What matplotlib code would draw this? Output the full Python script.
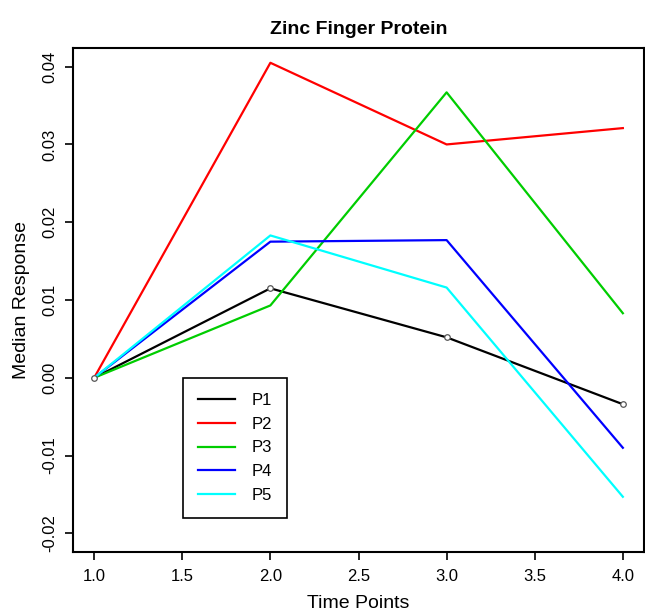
import matplotlib
matplotlib.use("Agg")
import matplotlib.pyplot as plt

plt.rcParams["font.family"] = ["Liberation Sans", "DejaVu Sans"]

time_points = [1, 2, 3, 4]
p1 = [0.0, 0.0115, 0.0052, -0.0034]
p2 = [0.0, 0.0405, 0.0300, 0.0321]
p3 = [0.0, 0.0093, 0.0367, 0.0083]
p4 = [0.0, 0.0175, 0.0177, -0.0090]
p5 = [0.0, 0.0183, 0.0116, -0.0153]

series = [("P1", p1, "black"), ("P2", p2, "#FF0000"), ("P3", p3, "#00CD00"),
          ("P4", p4, "#0000FF"), ("P5", p5, "#00FFFF")]

x_ticks = [1.0, 1.5, 2.0, 2.5, 3.0, 3.5, 4.0]
y_ticks = [-0.02, -0.01, 0.00, 0.01, 0.02, 0.03, 0.04]

fig = plt.figure(figsize=(6.45, 6.14), dpi=100)
ax = fig.add_axes([73 / 645, 62 / 614, 571 / 645, 504 / 614])

for name, vals, col in series:
    ax.plot(time_points, vals, color=col, lw=1.6, label=name)
# P1 was drawn with small open point markers
ax.plot(time_points, p1, linestyle="none", marker="o", ms=4, mfc="white",
        mec="#555555", mew=0.9)

ax.set_xlim(0.88, 4.12)
ax.set_ylim(-0.0224, 0.0424)
ax.set_xticks(x_ticks)
ax.set_xticklabels([f"{t:.1f}" for t in x_ticks], fontsize=12)
ax.set_yticks(y_ticks)
ax.set_yticklabels([f"{t:.2f}" for t in y_ticks], fontsize=12,
                   rotation=90, va="center")
ax.tick_params(direction="out", length=6, width=1.2, color="black")
ax.tick_params(axis="x", pad=6)
ax.tick_params(axis="y", pad=5)
for sp in ax.spines.values():
    sp.set_linewidth(1.5)

ax.set_title("Zinc Finger Protein", fontsize=14, fontweight="bold", pad=10)
ax.set_xlabel("Time Points", fontsize=14, labelpad=8)
ax.set_ylabel("Median Response", fontsize=14, labelpad=9)

leg = ax.legend(loc="upper left", bbox_to_anchor=(0.193, 0.345), borderaxespad=0,
                fontsize=12, fancybox=False, edgecolor="black", framealpha=1,
                handlelength=2.2, handletextpad=1.0, labelspacing=0.52,
                borderpad=0.9)
leg.get_frame().set_linewidth(1.2)

plt.savefig("out.png", dpi=100)
